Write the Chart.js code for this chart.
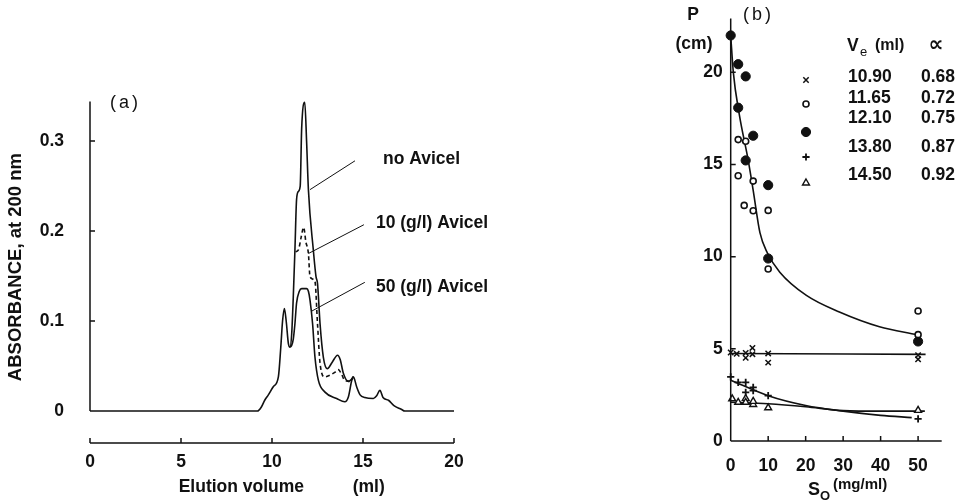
<!DOCTYPE html>
<html>
<head>
<meta charset="utf-8">
<script src="https://cdn.jsdelivr.net/npm/chart.js@4/dist/chart.umd.min.js"></script>
<style>
  body { margin: 0; background: #fff; }
  #wrap { position: relative; width: 963px; height: 500px; }
  #chartA { position: absolute; left: 0; top: 0; }
  #chartB { position: absolute; left: 480px; top: 0; }
</style>
</head>
<body>
<div id="wrap">
  <canvas id="chartA" width="620" height="500"></canvas>
  <canvas id="chartB" width="483" height="500"></canvas>
</div>
<script>
// ---- panel (a): elution profiles, [volume ml, absorbance] ----
const elutionTicks = [0, 5, 10, 15, 20];
const absorbanceTicks = [0, 0.1, 0.2, 0.3];

const noAvicel = [
  [0, 0], [9.2, 0], [9.43, 0.005], [9.6, 0.012], [9.8, 0.018], [10.07, 0.027], [10.35, 0.038],
  [10.48, 0.07], [10.58, 0.1], [10.68, 0.114], [10.78, 0.1], [10.9, 0.075], [10.99, 0.071],
  [11.08, 0.085], [11.17, 0.127], [11.26, 0.179], [11.35, 0.235], [11.45, 0.244], [11.55, 0.25],
  [11.63, 0.314], [11.8, 0.343], [11.9, 0.3], [12.0, 0.246], [12.27, 0.179], [12.42, 0.149],
  [12.5, 0.142], [12.64, 0.097], [12.82, 0.06], [13.04, 0.047], [13.3, 0.054], [13.6, 0.062],
  [13.75, 0.057], [13.92, 0.042], [14.19, 0.033], [14.35, 0.035], [14.47, 0.038], [14.65, 0.027],
  [14.84, 0.018], [15.1, 0.015], [15.57, 0.014], [15.75, 0.017], [15.93, 0.023], [16.1, 0.015],
  [16.4, 0.012], [16.7, 0.006], [17.1, 0.002], [17.3, 0], [20, 0]
];
const avicel10 = [
  [11.3, 0.177], [11.45, 0.179], [11.6, 0.193], [11.74, 0.204], [11.86, 0.188], [12.0, 0.175],
  [12.09, 0.149], [12.36, 0.144], [12.5, 0.097], [12.64, 0.053], [12.9, 0.038], [13.19, 0.04],
  [13.45, 0.043], [13.64, 0.046], [13.8, 0.042], [14.0, 0.034], [14.29, 0.033], [14.47, 0.038]
];
const avicel50 = [
  [10.99, 0.071], [11.08, 0.073], [11.17, 0.08], [11.26, 0.097], [11.35, 0.12], [11.5, 0.133],
  [11.63, 0.136], [11.9, 0.136], [12.0, 0.133], [12.09, 0.123], [12.23, 0.097], [12.36, 0.06],
  [12.55, 0.034], [12.91, 0.021], [13.55, 0.014], [14.0, 0.0103], [14.2, 0.016], [14.38, 0.034],
  [14.47, 0.038]
];
const curveLabels = ['no Avicel', '10 (g/l) Avicel', '50 (g/l) Avicel'];
const labelAnchors = [[16.1, 0.28], [15.71, 0.209], [15.71, 0.138]];
const leaderLines = [
  [[12.09, 0.246], [14.56, 0.278]],
  [[12.0, 0.175], [15.05, 0.207]],
  [[12.18, 0.111], [15.1, 0.143]]
];

// ---- panel (b): P (cm) against S0 (mg/ml) ----
const soTicks = [0, 10, 20, 30, 40, 50];
const pTicks = [0, 5, 10, 15, 20];
const veValues = ['10.90', '11.65', '12.10', '13.80', '14.50'];
const alphaValues = ['0.68', '0.72', '0.75', '0.87', '0.92'];

const crossPts = [[0, 4.8], [1.6, 4.73], [4, 4.78], [4, 4.51], [5.8, 5.05], [5.8, 4.71], [10, 4.75], [10, 4.25], [50, 4.66], [50, 4.43]];
const openPts = [[2, 16.35], [4, 16.26], [2, 14.39], [6, 14.1], [3.6, 12.78], [6, 12.49], [10, 12.51], [10, 9.33], [50, 7.05], [50, 5.77]];
const filledPts = [[0, 22.0], [2, 20.44], [4, 19.78], [2, 18.08], [6, 16.56], [4, 15.22], [10, 13.88], [10, 9.9], [50, 5.4]];
const plusPts = [[0, 3.48], [2, 3.18], [4, 3.18], [4, 2.64], [6, 2.91], [6, 2.73], [10, 2.46], [50, 1.2]];
const triPts = [[0.4, 2.29], [2, 2.1], [4, 2.3], [4, 2.1], [6, 1.98], [6, 2.15], [10, 1.8], [50, 1.66]];

const fitMain = [[0, 22], [0.7, 20], [2.3, 17.7], [4.7, 15.2], [6, 13.6], [7.8, 11.3], [9.8, 10.2], [13.1, 9.16], [20.2, 7.9], [29, 7.0], [39.7, 6.2], [49.7, 5.77]];
const fitCross = [[0, 4.75], [52, 4.7]];
const fitPlus = [[0, 3.3], [10, 2.46], [20, 1.93], [30, 1.62], [40, 1.39], [48.3, 1.27]];
const fitTri = [[0, 2.1], [10, 2.02], [20, 1.86], [30, 1.65], [40, 1.62], [51.8, 1.62]];

const INK = '#111';
const FONT = '"Liberation Sans", Arial, sans-serif';
Chart.defaults.font.family = FONT;
Chart.defaults.font.size = 17.5;
Chart.defaults.font.weight = 'bold';
Chart.defaults.color = INK;

const toXY = pts => pts.map(p => ({ x: p[0], y: p[1] }));
const setTicks = list => scale => { scale.ticks = list.map(v => ({ value: v })); };

// axis lines with short inward ticks, like the printed figure
const axisFrame = {
  id: 'axisFrame',
  afterDraw(chart, args, opts) {
    const { ctx } = chart;
    const xs = chart.scales.x, ys = chart.scales.y;
    const x0 = xs.getPixelForValue(xs.min);
    const yb = ys.getPixelForValue(opts.xAxisAt);
    ctx.save();
    ctx.strokeStyle = INK;
    ctx.lineWidth = 1.5;
    ctx.beginPath();
    ctx.moveTo(x0, ys.getPixelForValue(opts.yFrom));
    ctx.lineTo(x0, ys.top);
    ctx.moveTo(x0, yb);
    ctx.lineTo(xs.right, yb);
    opts.yTicks.forEach(v => {
      if (v === 0) return;
      const y = ys.getPixelForValue(v);
      ctx.moveTo(x0, y);
      ctx.lineTo(x0 + 5, y);
    });
    opts.xTicks.forEach(v => {
      const x = xs.getPixelForValue(v);
      ctx.moveTo(x, yb);
      ctx.lineTo(x, yb - 5);
    });
    ctx.stroke();
    ctx.restore();
  }
};

const textA = {
  id: 'textA',
  afterDraw(chart) {
    const { ctx } = chart;
    const xs = chart.scales.x, ys = chart.scales.y;
    ctx.save();
    ctx.fillStyle = INK;
    ctx.textBaseline = 'middle';
    ctx.font = '18px ' + FONT;
    ctx.letterSpacing = '3px';
    ctx.fillText('(a)', 110, 103);
    ctx.letterSpacing = '0px';
    ctx.font = 'bold 17.5px ' + FONT;
    curveLabels.forEach((t, i) => {
      ctx.fillText(t, xs.getPixelForValue(labelAnchors[i][0]), ys.getPixelForValue(labelAnchors[i][1]));
    });
    ctx.restore();
  }
};

const curve = (pts, dash) => ({
  data: toXY(pts), borderColor: INK, borderWidth: 1.6, borderDash: dash || [],
  pointRadius: 0, cubicInterpolationMode: 'monotone', fill: false, clip: 6
});
const leader = pts => ({
  data: toXY(pts), borderColor: INK, borderWidth: 1, pointRadius: 0, tension: 0, fill: false, clip: false
});

new Chart(document.getElementById('chartA'), {
  type: 'line',
  data: {
    datasets: [curve(noAvicel), curve(avicel10, [4, 3]), curve(avicel50)].concat(leaderLines.map(leader))
  },
  options: {
    responsive: false,
    animation: false,
    events: [],
    layout: { padding: { top: 101.4, right: 166, left: 0, bottom: 0 } },
    plugins: {
      legend: { display: false },
      tooltip: { enabled: false },
      axisFrame: { yFrom: 0, xAxisAt: -0.0355, yTicks: absorbanceTicks, xTicks: elutionTicks }
    },
    scales: {
      x: {
        type: 'linear', min: 0, max: 20,
        afterBuildTicks: setTicks(elutionTicks),
        afterFit: s => { s.height = 57; },
        grid: { display: false, drawTicks: false },
        border: { display: false },
        ticks: { padding: 9, maxRotation: 0 },
        title: { display: true, text: '    Elution volume          (ml)', padding: { top: 0, bottom: 2 } }
      },
      y: {
        type: 'linear', min: -0.0355, max: 0.344,
        afterBuildTicks: setTicks(absorbanceTicks),
        afterFit: s => { s.width = 90; },
        grid: { display: false, drawTicks: false },
        border: { display: false },
        ticks: { padding: 26 },
        title: { display: true, text: '  ABSORBANCE, at 200 nm', font: { size: 18.5 }, padding: { top: 5, bottom: 0 } }
      }
    }
  },
  plugins: [axisFrame, textA]
});

// ---- panel (b) ----
const markerStyles = [
  { pointStyle: 'crossRot', radius: 3.8, borderWidth: 1.5, fill: INK },
  { pointStyle: 'circle', radius: 3, borderWidth: 1.6, fill: '#fff' },
  { pointStyle: 'circle', radius: 4.6, borderWidth: 1, fill: INK },
  { pointStyle: 'cross', radius: 3.6, borderWidth: 1.8, fill: INK },
  { pointStyle: 'triangle', radius: 4, borderWidth: 1.4, fill: '#fff' }
];
const pointSets = [crossPts, openPts, filledPts, plusPts, triPts];

const textB = {
  id: 'textB',
  afterDraw(chart) {
    const { ctx } = chart;
    const ox = 480;
    ctx.save();
    ctx.fillStyle = INK;
    ctx.strokeStyle = INK;
    ctx.textBaseline = 'middle';
    ctx.font = 'bold 17.5px ' + FONT;
    ctx.textAlign = 'center';
    ctx.fillText('P', 693 - ox, 15);
    ctx.fillText('(cm)', 694 - ox, 44);
    ctx.textAlign = 'left';
    ctx.font = '18px ' + FONT;
    ctx.letterSpacing = '3px';
    ctx.fillText('(b)', 743 - ox, 15);
    ctx.letterSpacing = '0px';
    // table header
    ctx.font = 'bold 17.5px ' + FONT;
    ctx.fillText('V', 847 - ox, 46);
    ctx.font = '13px ' + FONT;
    ctx.fillText('e', 860 - ox, 52);
    ctx.font = 'bold 16px ' + FONT;
    ctx.fillText('(ml)', 875 - ox, 46);
    ctx.font = 'bold 21px "DejaVu Sans", ' + FONT;
    ctx.textAlign = 'center';
    ctx.fillText('\u221D', 936 - ox, 46);
    ctx.textAlign = 'left';
    ctx.font = 'bold 17.5px ' + FONT;
    const rowY = [77, 98, 118, 147, 175];
    const markY = [80, 104, 132, 157, 183];
    veValues.forEach((v, i) => {
      ctx.fillText(v, 848 - ox, rowY[i]);
      ctx.fillText(alphaValues[i], 921 - ox, rowY[i]);
      const m = markerStyles[i];
      ctx.fillStyle = m.fill;
      ctx.lineWidth = m.borderWidth;
      Chart.helpers.drawPoint(ctx, { pointStyle: m.pointStyle, radius: m.radius, borderWidth: m.borderWidth, rotation: 0 }, 806 - ox, markY[i]);
      ctx.fillStyle = INK;
    });
    // x axis title S0 (mg/ml)
    ctx.font = 'bold 18px ' + FONT;
    ctx.fillText('S', 808 - ox, 490);
    ctx.font = 'bold 13px ' + FONT;
    ctx.fillText('O', 820 - ox, 496);
    ctx.font = 'bold 15px ' + FONT;
    ctx.fillText('(mg/ml)', 833 - ox, 485);
    ctx.restore();
  }
};

const fitLine = pts => ({
  data: toXY(pts), showLine: true, borderColor: INK, borderWidth: 1.6, pointRadius: 0,
  cubicInterpolationMode: 'monotone', fill: false, clip: false
});
const markerSet = (pts, m) => ({
  data: toXY(pts), showLine: false, pointStyle: m.pointStyle, pointRadius: m.radius,
  pointBorderWidth: m.borderWidth, pointBorderColor: INK, pointBackgroundColor: m.fill, clip: false
});

new Chart(document.getElementById('chartB'), {
  type: 'scatter',
  data: {
    datasets: pointSets.map((p, i) => markerSet(p, markerStyles[i]))
      .concat([fitMain, fitCross, fitPlus, fitTri].map(fitLine))
  },
  options: {
    responsive: false,
    animation: false,
    events: [],
    layout: { padding: { top: 13, right: 21.3, left: 0, bottom: 0 } },
    plugins: {
      legend: { display: false },
      tooltip: { enabled: false },
      axisFrame: { yFrom: 0, xAxisAt: 0, yTicks: pTicks, xTicks: soTicks }
    },
    scales: {
      x: {
        type: 'linear', min: 0, max: 56.3,
        afterBuildTicks: setTicks(soTicks),
        afterFit: s => { s.height = 59; },
        grid: { display: false, drawTicks: false },
        border: { display: false },
        ticks: { padding: 15, maxRotation: 0 }
      },
      y: {
        type: 'linear', min: 0, max: 22.92,
        afterBuildTicks: setTicks(pTicks),
        afterFit: s => { s.width = 250.7; },
        grid: { display: false, drawTicks: false },
        border: { display: false },
        ticks: { padding: 8 }
      }
    }
  },
  plugins: [axisFrame, textB]
});
</script>
</body>
</html>
